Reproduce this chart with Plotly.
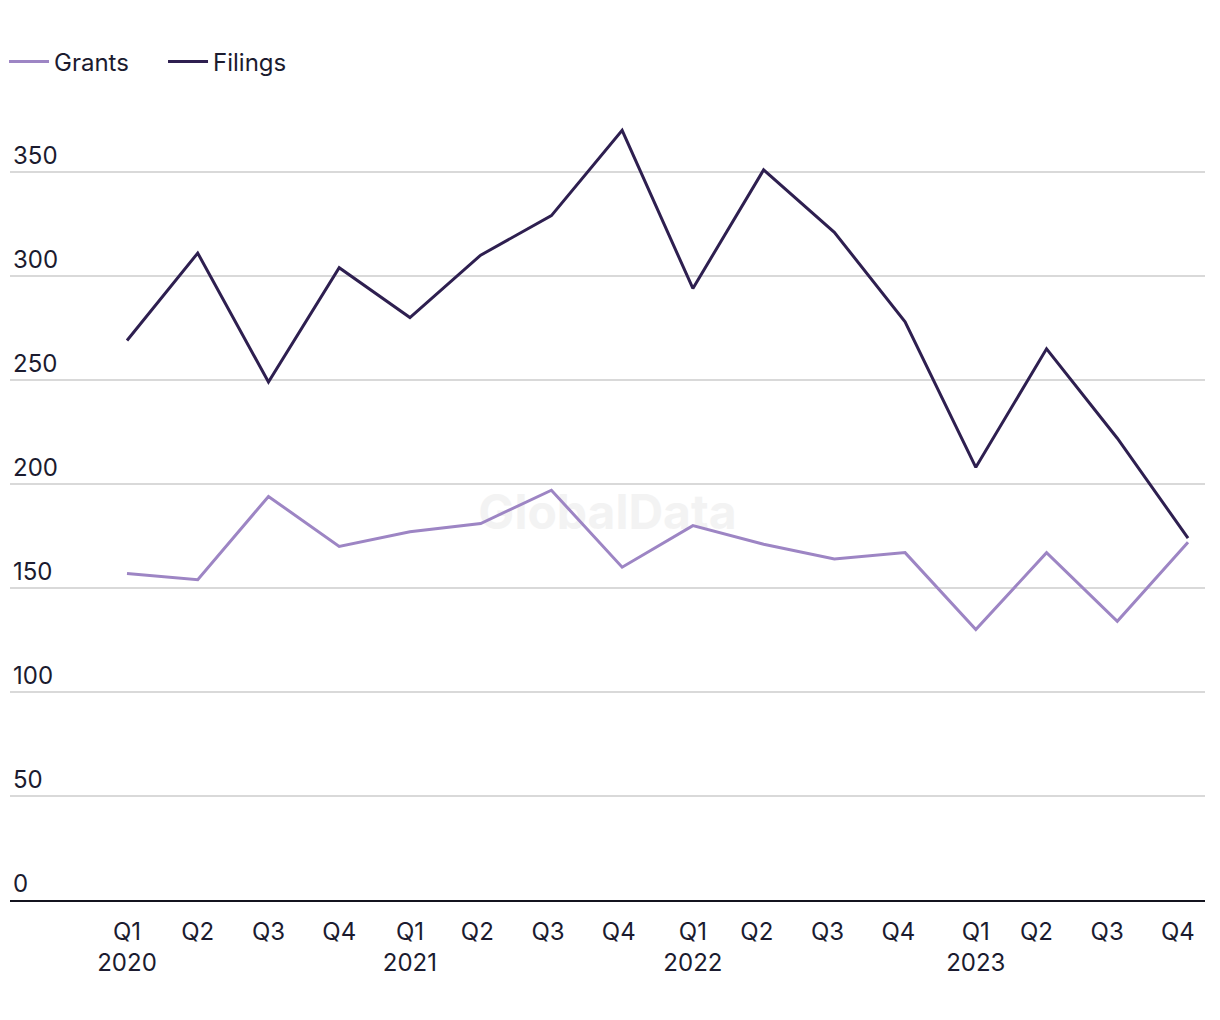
import plotly.graph_objects as go

quarters = ["Q1<br>2020", "Q2", "Q3", "Q4",
            "Q1<br>2021", "Q2 ", "Q3 ", "Q4 ",
            "Q1<br>2022", "Q2  ", "Q3  ", "Q4  ",
            "Q1<br>2023", "Q2   ", "Q3   ", "Q4   "]
grants = [157, 154, 194, 170, 177, 181, 197, 160, 180, 171, 164, 167, 130, 167, 134, 172]
filings = [269, 311, 249, 304, 280, 310, 329, 370, 294, 351, 321, 278, 208, 265, 222, 174]
ytick_vals = [0, 50, 100, 150, 200, 250, 300, 350]

xs = list(range(len(quarters)))

fig = go.Figure()
fig.add_trace(go.Scatter(x=xs, y=grants, name="Grants", mode="lines",
                         line=dict(color="#9d85c4", width=3)))
fig.add_trace(go.Scatter(x=xs, y=filings, name="Filings", mode="lines",
                         line=dict(color="#2e1f50", width=3)))

fig.add_shape(type="rect", xref="paper", yref="paper", x0=0.3, x1=0.7, y0=0.44, y1=0.535,
              line=dict(width=0), fillcolor="rgba(0,0,0,0)", layer="below",
              label=dict(text="<b>GlobalData</b>", font=dict(size=48, color="#f3f3f3", family="Inter"),
                         textposition="middle center"))

fig.update_layout(
    width=1220, height=1020,
    margin=dict(l=2, r=23, t=92, b=128, autoexpand=False),
    paper_bgcolor="white", plot_bgcolor="white",
    font=dict(family="Inter", size=24, color="#1b1b2f"),
    showlegend=True,
    legend=dict(orientation="h", x=-0.005, xanchor="left", y=1.0475, yanchor="middle",
                font=dict(size=24, color="#1b1b2f"), itemwidth=40, traceorder="normal",
                entrywidth=104, entrywidthmode="pixels"),
    hovermode=False,
)
fig.update_xaxes(
    tickmode="array", tickvals=xs, ticktext=quarters,
    range=[-1.654, 15.24], showgrid=False, zeroline=False,
    showline=True, linecolor="#14141f", linewidth=2,
    ticks="", ticklabelstandoff=9, automargin=False,
    tickfont=dict(size=24, color="#1b1b2f"),
)
fig.update_yaxes(
    range=[0, 384.6], tickmode="array", tickvals=ytick_vals,
    ticklabelposition="inside top", showgrid=True, gridcolor="#d9d9d9", gridwidth=2,
    zeroline=False, showline=False, ticks="", automargin=False,
    tickfont=dict(size=24, color="#1b1b2f"),
)

fig.write_html("out.html")
